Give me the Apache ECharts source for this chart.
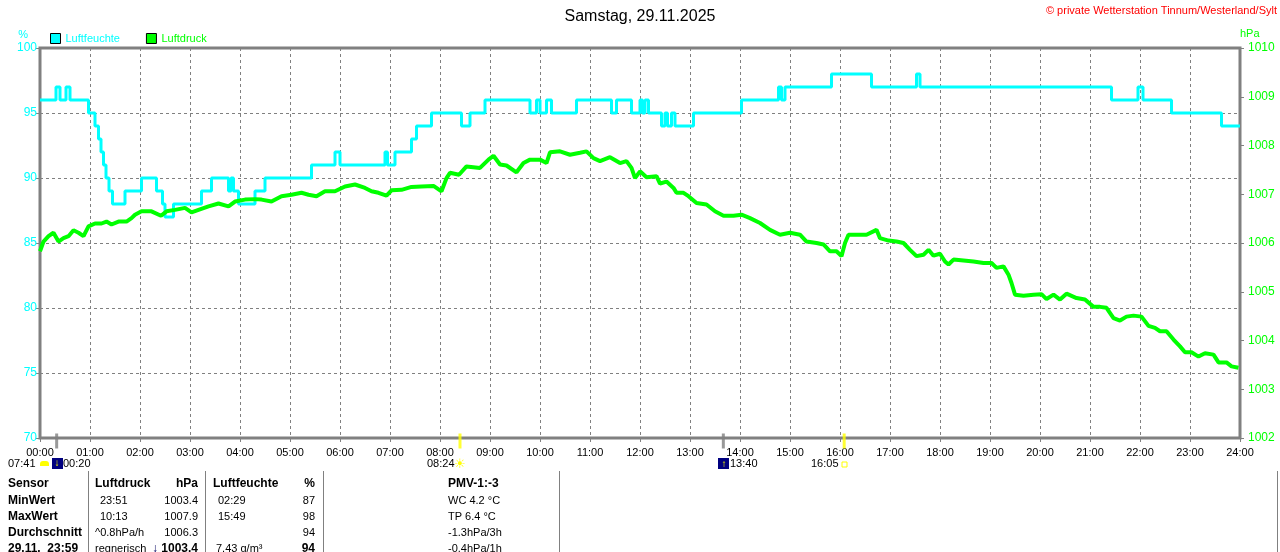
<!DOCTYPE html>
<html>
<head>
<meta charset="utf-8">
<script src="https://cdn.jsdelivr.net/npm/echarts@6/dist/echarts.min.js"></script>
<style>
  html, body { margin: 0; padding: 0; background: #fff; }
  #chart { width: 1280px; height: 552px; }
</style>
</head>
<body>
<div id="chart"></div>
<script>
// Stundenbeschriftung der x-Achse
const hourLabels = ['00:00', '01:00', '02:00', '03:00', '04:00', '05:00', '06:00', '07:00', '08:00',
    '09:00', '10:00', '11:00', '12:00', '13:00', '14:00', '15:00', '16:00', '17:00', '18:00',
    '19:00', '20:00', '21:00', '22:00', '23:00', '24:00'];

// Luftfeuchte (%) - Zeitpunkte (Stunden) an denen sich der Wert ändert
const humTime = [0, 0.32, 0.40, 0.52, 0.60, 0.97, 1.10, 1.17, 1.22, 1.27, 1.32, 1.38, 1.45, 1.70, 2.03,
    2.33, 2.45, 2.50, 2.67, 3.23, 3.43, 3.77, 3.82, 3.87, 3.97, 4.30, 4.50, 5.43, 5.90, 6.00,
    6.90, 6.95, 7.10, 7.43, 7.53, 7.83, 8.43, 8.60, 8.90, 9.80, 9.93, 10.00, 10.13, 10.23, 10.73,
    11.43, 11.53, 11.83, 12.00, 12.05, 12.10, 12.17, 12.43, 12.50, 12.55, 12.63, 12.70, 13.07, 14.03, 14.77,
    14.83, 14.90, 15.83, 16.63, 17.53, 17.60, 21.43, 21.96, 22.06, 22.63, 23.63, 24.00];
const humValue = [96, 97, 96, 97, 96, 95, 94, 93, 92, 91, 90, 89, 88, 89, 90,
    89, 88, 87, 88, 89, 90, 89, 90, 89, 88, 89, 90, 91, 92, 91,
    92, 91, 92, 93, 94, 95, 94, 95, 96, 95, 96, 95, 96, 95, 96,
    95, 96, 95, 96, 95, 96, 95, 94, 95, 94, 95, 94, 95, 96, 97,
    96, 97, 98, 97, 98, 97, 96, 97, 96, 95, 94, 94];

// Luftdruck (hPa)
const pressTime = [0.00, 0.07, 0.17, 0.27, 0.37, 0.47, 0.57, 0.67, 0.77, 0.87, 0.97, 1.10, 1.23, 1.33, 1.43,
    1.57, 1.73, 1.83, 1.90, 2.03, 2.23, 2.42, 2.53, 2.70, 2.90, 3.03, 3.17, 3.37, 3.57, 3.77,
    3.90, 4.10, 4.30, 4.43, 4.63, 4.83, 5.03, 5.23, 5.37, 5.53, 5.70, 5.90, 6.10, 6.30, 6.50,
    6.63, 6.77, 6.93, 7.03, 7.23, 7.43, 7.63, 7.87, 8.03, 8.13, 8.20, 8.38, 8.53, 8.80, 8.97,
    9.07, 9.20, 9.33, 9.53, 9.67, 9.80, 10.00, 10.13, 10.20, 10.40, 10.60, 10.80, 10.93, 11.07, 11.20,
    11.40, 11.60, 11.73, 11.83, 11.90, 12.00, 12.13, 12.33, 12.40, 12.53, 12.67, 12.73, 12.87, 12.97, 13.13,
    13.33, 13.50, 13.67, 13.87, 14.03, 14.20, 14.40, 14.60, 14.80, 15.00, 15.20, 15.33, 15.53, 15.67, 15.80,
    15.93, 16.03, 16.10, 16.17, 16.33, 16.53, 16.73, 16.80, 16.97, 17.13, 17.27, 17.40, 17.53, 17.67, 17.77,
    17.87, 18.00, 18.10, 18.17, 18.27, 18.47, 18.67, 18.87, 19.03, 19.13, 19.27, 19.37, 19.43, 19.50, 19.67,
    19.87, 20.03, 20.13, 20.27, 20.40, 20.53, 20.73, 20.90, 21.07, 21.20, 21.33, 21.47, 21.60, 21.73, 21.87,
    22.03, 22.17, 22.30, 22.40, 22.53, 22.67, 22.80, 22.90, 23.03, 23.17, 23.30, 23.47, 23.57, 23.73, 23.83,
    23.97];
const pressValue = [1005.83, 1006.03, 1006.14, 1006.21, 1006.03, 1006.10, 1006.14, 1006.26, 1006.21, 1006.14, 1006.34, 1006.40, 1006.40, 1006.44, 1006.38,
    1006.44, 1006.44, 1006.51, 1006.58, 1006.65, 1006.65, 1006.56, 1006.65, 1006.68, 1006.72, 1006.63, 1006.68, 1006.75, 1006.81, 1006.75,
    1006.85, 1006.89, 1006.90, 1006.89, 1006.85, 1006.96, 1006.99, 1007.03, 1006.99, 1006.96, 1007.06, 1007.06, 1007.16, 1007.20, 1007.13,
    1007.06, 1007.03, 1006.97, 1007.08, 1007.09, 1007.15, 1007.16, 1007.17, 1007.06, 1007.33, 1007.44, 1007.40, 1007.57, 1007.54, 1007.71,
    1007.79, 1007.61, 1007.59, 1007.45, 1007.64, 1007.71, 1007.71, 1007.64, 1007.86, 1007.88, 1007.81, 1007.85, 1007.88, 1007.74, 1007.68,
    1007.76, 1007.64, 1007.68, 1007.54, 1007.33, 1007.47, 1007.35, 1007.37, 1007.22, 1007.26, 1007.13, 1007.03, 1007.03, 1006.96, 1006.82,
    1006.79, 1006.65, 1006.56, 1006.56, 1006.58, 1006.51, 1006.41, 1006.27, 1006.17, 1006.21, 1006.17, 1006.03, 1006.00, 1005.97, 1005.83,
    1005.83, 1005.73, 1006.00, 1006.17, 1006.17, 1006.17, 1006.27, 1006.10, 1006.05, 1006.03, 1006.00, 1005.86, 1005.73, 1005.76, 1005.86,
    1005.74, 1005.78, 1005.62, 1005.56, 1005.66, 1005.64, 1005.62, 1005.59, 1005.59, 1005.49, 1005.52, 1005.35, 1005.18, 1004.94, 1004.92,
    1004.94, 1004.95, 1004.85, 1004.94, 1004.84, 1004.96, 1004.87, 1004.84, 1004.69, 1004.69, 1004.67, 1004.46, 1004.41, 1004.49, 1004.51,
    1004.49, 1004.30, 1004.26, 1004.19, 1004.19, 1004.02, 1003.88, 1003.76, 1003.76, 1003.67, 1003.74, 1003.71, 1003.55, 1003.55, 1003.47,
    1003.44];

// Mond / Sonne Marken an der x-Achse (Stunden)
const markTime = [20 / 60, 8 + 24 / 60, 13 + 40 / 60, 16 + 5 / 60];
const markColor = ['#808080', '#FFFF00', '#808080', '#FFFF00'];

// Tabelle unter dem Diagramm
const rowNames = ['Sensor', 'MinWert', 'MaxWert', 'Durchschnitt', '29.11.  23:59'];
const pressTimes = ['', '23:51', '10:13', '^0.8hPa/h', 'regnerisch'];
const pressVals = ['hPa', '1003.4', '1007.9', '1006.3', '1003.4'];
const humTimes = ['', '02:29', '15:49', '', '7.43 g/m³'];
const humVals = ['%', '87', '98', '94', '94'];
const pmvTexts = ['PMV-1:-3', 'WC 4.2 °C', 'TP 6.4 °C', '-1.3hPa/3h', '-0.4hPa/1h'];

const FONT = '"Liberation Sans", Arial, sans-serif';
const CYAN = '#00FFFF';
const GREEN = '#00FF00';
const GRAY = '#808080';

function zip(a, b) {
    return a.map((v, i) => [v, b[i]]);
}

// Text-Element für graphic
function txt(x, y, s, o) {
    o = o || {};
    return {
        type: 'text', x: x, y: y, z: 100,
        style: {
            text: s,
            fill: o.color || '#000',
            font: (o.bold ? 'bold ' : '') + (o.size || 11) + 'px ' + FONT,
            align: o.align || 'left',
            verticalAlign: 'middle'
        }
    };
}

function vline(x, y1, y2) {
    return { type: 'line', z: 100, shape: { x1: x, y1: y1, x2: x, y2: y2 }, style: { stroke: GRAY, lineWidth: 1 } };
}

function buildGraphic() {
    let g = [];
    // Copyright oben rechts
    g.push(txt(1277, 11, '© private Wetterstation Tinnum/Westerland/Sylt', { color: '#FF0000', align: 'right' }));

    // Auf-/Untergangszeiten unter der Achse
    g.push(txt(8, 464, '07:41'));
    g.push({ type: 'rect', z: 100, shape: { x: 40, y: 461, width: 9, height: 5, r: [3, 3, 0, 0] }, style: { fill: '#FFFF00' } });
    g.push({ type: 'rect', z: 100, shape: { x: 52, y: 458, width: 11, height: 11 }, style: { fill: '#000080' } });
    g.push(txt(57, 463, '↓', { color: '#FFFF00', bold: true, size: 10, align: 'center' }));
    g.push(txt(63, 464, '00:20'));
    g.push(txt(427, 464, '08:24'));
    g.push(txt(460, 464, '☀', { color: '#FFFF00', size: 13, align: 'center' }));
    g.push({ type: 'rect', z: 100, shape: { x: 718, y: 458, width: 11, height: 11 }, style: { fill: '#000080' } });
    g.push(txt(724, 464, '↑', { color: '#FFFF00', bold: true, size: 10, align: 'center' }));
    g.push(txt(730, 464, '13:40'));
    g.push(txt(811, 464, '16:05'));
    g.push({ type: 'rect', z: 100, shape: { x: 842, y: 462, width: 5, height: 5 }, style: { fill: 'none', stroke: '#FFFF00', lineWidth: 1 } });

    // Tabelle
    [88, 205, 323, 559, 1277].forEach(x => g.push(vline(x + 0.5, 471, 552)));
    const rowY = [484, 500.5, 516.5, 532.5, 548.5];
    rowY.forEach((y, i) => {
        const head = i === 0;
        g.push(txt(8, y, rowNames[i], { bold: true, size: 12 }));
        g.push(txt(i === 0 || i >= 3 ? 95 : 100, y, head ? 'Luftdruck' : pressTimes[i], { bold: head, size: head ? 12 : 11 }));
        g.push(txt(198, y, pressVals[i], { bold: head || i === 4, size: head || i === 4 ? 12 : 11, align: 'right' }));
        g.push(txt(i === 0 ? 213 : (i === 4 ? 216 : 218), y, head ? 'Luftfeuchte' : humTimes[i], { bold: head, size: head ? 12 : 11 }));
        g.push(txt(315, y, humVals[i], { bold: head || i === 4, size: head || i === 4 ? 12 : 11, align: 'right' }));
        g.push(txt(448, y, pmvTexts[i], { bold: head, size: head ? 12 : 11 }));
    });
    g.push(txt(155, 548.5, '↓', { bold: true, size: 12, color: '#000060', align: 'center' }));
    return g;
}

let myChart = echarts.init(document.getElementById('chart'));
myChart.setOption({
    animation: false,
    backgroundColor: '#fff',
    textStyle: { fontFamily: FONT },
    title: {
        text: 'Samstag, 29.11.2025',
        left: 'center',
        top: 4,
        textStyle: { fontSize: 16, fontWeight: 'normal', color: '#000', fontFamily: FONT }
    },
    legend: {
        left: 45,
        top: 28,
        icon: 'rect',
        itemWidth: 10,
        itemHeight: 10,
        itemGap: 26,
        itemStyle: { borderColor: '#000', borderWidth: 1 },
        data: [
            { name: 'Luftfeuchte', textStyle: { color: CYAN } },
            { name: 'Luftdruck', textStyle: { color: GREEN } }
        ],
        textStyle: { fontSize: 11, fontFamily: FONT }
    },
    grid: {
        left: 40, right: 40, top: 48, bottom: 114,
        show: true,
        borderColor: GRAY,
        borderWidth: 3
    },
    xAxis: {
        type: 'value',
        min: 0, max: 24, interval: 1,
        axisLine: { show: false },
        axisTick: { show: true, length: 4, lineStyle: { color: GRAY } },
        axisLabel: {
            color: '#000', fontSize: 11, margin: 9,
            showMinLabel: true, showMaxLabel: true,
            formatter: v => hourLabels[v]
        },
        splitLine: { show: true, lineStyle: { color: GRAY, type: [3, 3], width: 1 } }
    },
    yAxis: [{
        type: 'value',
        min: 70, max: 100, interval: 5,
        name: '%',
        nameGap: 8,
        nameTextStyle: { color: CYAN, fontSize: 11, align: 'right', padding: [0, 12, 0, 0] },
        axisLine: { show: false },
        axisTick: { show: true, length: 4, lineStyle: { color: GRAY } },
        axisLabel: { color: CYAN, fontSize: 12, margin: 3 },
        splitLine: { show: true, lineStyle: { color: GRAY, type: [3, 3], width: 1 } }
    }, {
        type: 'value',
        min: 1002, max: 1010, interval: 1,
        position: 'right',
        name: 'hPa',
        nameGap: 9,
        nameTextStyle: { color: GREEN, fontSize: 11, align: 'left' },
        axisLine: { show: false },
        axisTick: { show: true, length: 4, lineStyle: { color: GRAY } },
        axisLabel: { color: GREEN, fontSize: 12, margin: 8, formatter: v => String(v) },
        splitLine: { show: false }
    }],
    series: [{
        name: 'Luftfeuchte',
        type: 'line',
        yAxisIndex: 0,
        step: 'end',
        symbol: 'none',
        color: CYAN,
        lineStyle: { width: 3, color: CYAN },
        data: zip(humTime, humValue),
        z: 3
    }, {
        name: 'Luftdruck',
        type: 'line',
        yAxisIndex: 1,
        symbol: 'none',
        color: GREEN,
        lineStyle: { width: 4, color: GREEN },
        data: zip(pressTime, pressValue),
        z: 4
    }, {
        name: 'Marken',
        type: 'scatter',
        yAxisIndex: 0,
        symbol: 'rect',
        symbolSize: [3, 15],
        symbolOffset: [0, 3],
        clip: false,
        silent: true,
        data: markTime.map((t, i) => ({ value: [t, 70], itemStyle: { color: markColor[i] } })),
        z: 5
    }],
    graphic: buildGraphic()
});
</script>
</body>
</html>
